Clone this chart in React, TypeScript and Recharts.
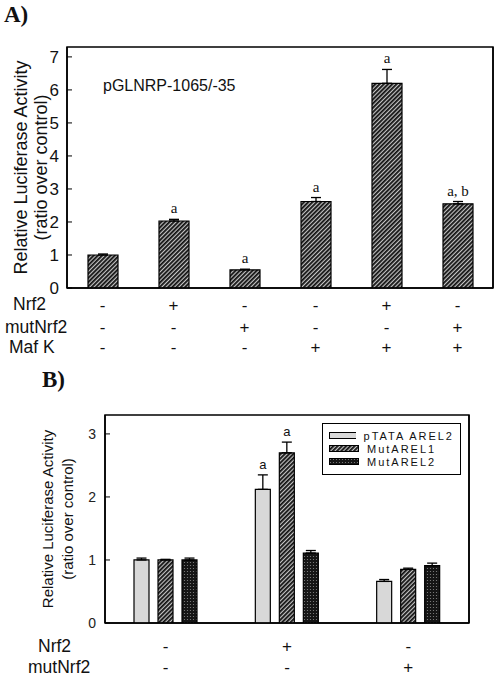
import {
  Bar,
  BarChart,
  ErrorBar,
  LabelList,
  Legend,
  ReferenceArea,
  XAxis,
  YAxis,
} from "recharts";

const SANS = "Arial, 'Liberation Sans', Helvetica, sans-serif";
const SERIF = "'Times New Roman', 'Liberation Serif', serif";

// ---- panel A: pGLNRP-1065/-35 reporter ----
const conditionsA = ["control", "Nrf2", "mutNrf2", "MafK", "Nrf2+MafK", "mutNrf2+MafK"];
const activityA = [1.0, 2.03, 0.55, 2.62, 6.2, 2.55];
const errorA = [0.03, 0.05, 0.02, 0.12, 0.42, 0.07];
const notesA = ["", "a", "a", "a", "a", "a, b"];
const nrf2A = ["-", "+", "-", "-", "+", "-"];
const mutNrf2A = ["-", "-", "+", "-", "-", "+"];
const mafKA = ["-", "-", "-", "+", "+", "+"];
const rowNamesA = ["Nrf2", "mutNrf2", "Maf K"];
const ticksA = [0, 1, 2, 3, 4, 5, 6, 7];

// ---- panel B: ARE constructs ----
const conditionsB = ["control", "Nrf2", "mutNrf2"];
const seriesNamesB = ["pTATA AREL2", "MutAREL1", "MutAREL2"];
const ptataB = [1.0, 2.12, 0.66];
const ptataErrB = [0.03, 0.23, 0.03];
const mutArel1B = [1.0, 2.7, 0.85];
const mutArel1ErrB = [0.01, 0.17, 0.02];
const mutArel2B = [1.0, 1.11, 0.91];
const mutArel2ErrB = [0.03, 0.04, 0.04];
const ptataNotesB = ["", "a", ""];
const mutArel1NotesB = ["", "a", ""];
const emptyNotesB = ["", "", ""];
const nrf2B = ["-", "+", "-"];
const mutNrf2B = ["-", "-", "+"];
const rowNamesB = ["Nrf2", "mutNrf2"];
const ticksB = [0, 1, 2, 3];

// error bars only go up, so the lower bound is 0
const dataA = conditionsA.map((c, i) => ({
  condition: c,
  value: activityA[i],
  err: [0, errorA[i]],
}));

const dataB = conditionsB.map((c, i) => ({
  condition: c,
  ptata: ptataB[i],
  ptataErr: [0, ptataErrB[i]],
  mut1: mutArel1B[i],
  mut1Err: [0, mutArel1ErrB[i]],
  mut2: mutArel2B[i],
  mut2Err: [0, mutArel2ErrB[i]],
}));

function noteLabel(
  notes: string[],
  values: number[],
  errors: number[],
  family: string,
  size: number,
) {
  return (props: any) => {
    const vb = props.viewBox ?? props;
    const x = Number(props.x ?? vb.x);
    const y = Number(props.y ?? vb.y);
    const width = Number(props.width ?? vb.width);
    const height = Number(props.height ?? vb.height);
    const i = props.index;
    const note = notes[i];
    if (!note) return null;
    const k = height / values[i];
    const top = y - errors[i] * k;
    return (
      <text
        x={x + width / 2}
        y={top - 6}
        textAnchor="middle"
        fontFamily={family}
        fontSize={size}
        fill="#111"
      >
        {note}
      </text>
    );
  };
}

function signTick(rows: string[][], offsets: number[], categories: string[]) {
  return (props: any) => {
    const { x, y, payload } = props;
    let i = categories.indexOf(payload.value);
    if (i < 0) i = payload.index ?? props.index ?? 0;
    return (
      <g>
        {rows.map((r, j) => (
          <text
            key={j}
            x={x}
            y={y + offsets[j]}
            textAnchor="middle"
            fontFamily={SANS}
            fontSize={17}
            fill="#111"
          >
            {r[i]}
          </text>
        ))}
      </g>
    );
  };
}

function rowNames(names: string[], offsets: number[], xs: number[], size: number) {
  return (props: any) => {
    const vb = props.viewBox;
    return (
      <g>
        {names.map((n, j) => (
          <text
            key={n}
            x={xs[j]}
            y={vb.y + offsets[j]}
            fontFamily={SANS}
            fontSize={size}
            fill="#111"
          >
            {n}
          </text>
        ))}
      </g>
    );
  };
}

function yTitle(xs: number[], size: number) {
  return (props: any) => {
    const vb = props.viewBox;
    const cy = vb.y + vb.height / 2;
    const lines = ["Relative Luciferase Activity", "(ratio over control)"];
    return (
      <g>
        {lines.map((l, j) => (
          <text
            key={l}
            x={xs[j]}
            y={cy}
            transform={`rotate(-90 ${xs[j]} ${cy})`}
            textAnchor="middle"
            fontFamily={SANS}
            fontSize={size}
            fill="#111"
          >
            {l}
          </text>
        ))}
      </g>
    );
  };
}

function Swatch({ fill }: { fill: string }) {
  return (
    <svg width={30} height={7} style={{ display: "block" }}>
      <rect x={0.5} y={0.5} width={29} height={6} fill={fill} stroke="#000" strokeWidth={1} />
    </svg>
  );
}

function LegendB() {
  const fills = ["#d8d8d8", "url(#hatchB)", "url(#dotsB)"];
  return (
    <div
      style={{
        border: "1.5px solid #000",
        background: "#fff",
        padding: "5px 6px",
        boxSizing: "border-box",
        width: 139,
        height: 52,
      }}
    >
      {seriesNamesB.map((n, i) => (
        <div
          key={n}
          style={{ display: "flex", alignItems: "center", height: 13, gap: 8 }}
        >
          <Swatch fill={fills[i]} />
          <span
            style={{
              fontFamily: SANS,
              fontSize: 11,
              letterSpacing: 2,
              color: "#111",
              lineHeight: "12px",
              whiteSpace: "nowrap",
            }}
          >
            {n}
          </span>
        </div>
      ))}
    </div>
  );
}

function Patterns({ suffix }: { suffix: string }) {
  return (
    <defs>
      <pattern
        id={`hatch${suffix}`}
        patternUnits="userSpaceOnUse"
        width={3}
        height={3}
        patternTransform="rotate(45)"
      >
        <rect width={3} height={3} fill="#c4c4c4" />
        <rect width={1.8} height={3} fill="#111" />
      </pattern>
      <pattern id={`dots${suffix}`} patternUnits="userSpaceOnUse" width={3} height={3}>
        <rect width={3} height={3} fill="#151515" />
        <circle cx={1.5} cy={1.5} r={0.6} fill="#888" />
      </pattern>
    </defs>
  );
}

function PanelA() {
  return (
    <BarChart
      width={500}
      height={360}
      data={dataA}
      margin={{ top: 47, right: 0, bottom: 0, left: 0 }}
    >
      <Patterns suffix="A" />
      <ReferenceArea y1={0} y2={7.3} fill="none" stroke="#000" strokeWidth={1.5} />
      <XAxis
        dataKey="condition"
        height={72}
        tickLine={false}
        tickSize={0}
        tickMargin={0}
        axisLine={{ stroke: "#000", strokeWidth: 1.5 }}
        interval={0}
        tick={signTick([nrf2A, mutNrf2A, mafKA], [23, 45, 65], conditionsA)}
        label={{ content: rowNames(rowNamesA, [22, 45, 65], [13, 5, 9], 17.5) }}
      />
      <YAxis
        domain={[0, 7.3]}
        ticks={ticksA}
        width={67}
        tickSize={-5}
        tickMargin={13}
        allowDataOverflow
        axisLine={{ stroke: "#000", strokeWidth: 1.5 }}
        tickLine={{ stroke: "#000" }}
        tick={{ fill: "#111", fontSize: 17, fontFamily: SANS }}
        label={{ content: yTitle([27, 47], 18) }}
      />
      <YAxis
        yAxisId="right"
        orientation="right"
        domain={[0, 7.3]}
        ticks={ticksA}
        width={7}
        tickSize={-5}
        allowDataOverflow
        axisLine={{ stroke: "#000", strokeWidth: 1.5 }}
        tickLine={{ stroke: "#000" }}
        tick={false}
      />
      <Bar
        dataKey="value"
        barSize={30}
        fill="url(#hatchA)"
        stroke="#000"
        strokeWidth={1.2}
        isAnimationActive={false}
      >
        <ErrorBar dataKey="err" width={5} stroke="#000" strokeWidth={1.3} />
        <LabelList
          dataKey="value"
          content={noteLabel(notesA, activityA, errorA, SERIF, 15)}
        />
      </Bar>
    </BarChart>
  );
}

function PanelB() {
  return (
    <BarChart
      width={500}
      height={317}
      data={dataB}
      barGap={9}
      margin={{ top: 55, right: 24, bottom: 0, left: 0 }}
    >
      <Patterns suffix="B" />
      <ReferenceArea y1={0} y2={3.3} fill="none" stroke="#000" strokeWidth={1.5} />
      <XAxis
        dataKey="condition"
        height={54}
        tickLine={false}
        tickSize={0}
        tickMargin={0}
        axisLine={{ stroke: "#000", strokeWidth: 1.5 }}
        interval={0}
        tick={signTick([nrf2B, mutNrf2B], [29, 50], conditionsB)}
        label={{ content: rowNames(rowNamesB, [29, 50], [38, 28], 17.5) }}
      />
      <YAxis
        domain={[0, 3.3]}
        ticks={ticksB}
        width={105}
        tickSize={-5}
        tickMargin={14}
        allowDataOverflow
        axisLine={{ stroke: "#000", strokeWidth: 1.5 }}
        tickLine={{ stroke: "#000" }}
        tick={{ fill: "#222", fontSize: 14, fontFamily: SANS }}
        label={{ content: yTitle([53, 73], 15) }}
      />
      <YAxis
        yAxisId="right"
        orientation="right"
        domain={[0, 3.3]}
        ticks={ticksB}
        width={7}
        tickSize={-5}
        allowDataOverflow
        axisLine={{ stroke: "#000", strokeWidth: 1.5 }}
        tickLine={{ stroke: "#000" }}
        tick={false}
      />
      <Legend
        layout="vertical"
        align="center"
        verticalAlign="middle"
        wrapperStyle={{ left: 322, top: 63, width: 139, height: 52 }}
        content={() => <LegendB />}
      />
      <Bar
        dataKey="ptata"
        name={seriesNamesB[0]}
        barSize={15}
        fill="#d8d8d8"
        stroke="#000"
        strokeWidth={1.2}
        isAnimationActive={false}
      >
        <ErrorBar dataKey="ptataErr" width={5} stroke="#000" strokeWidth={1.3} />
        <LabelList
          dataKey="ptata"
          content={noteLabel(ptataNotesB, ptataB, ptataErrB, SANS, 13)}
        />
      </Bar>
      <Bar
        dataKey="mut1"
        name={seriesNamesB[1]}
        barSize={15}
        fill="url(#hatchB)"
        stroke="#000"
        strokeWidth={1.2}
        isAnimationActive={false}
      >
        <ErrorBar dataKey="mut1Err" width={5} stroke="#000" strokeWidth={1.3} />
        <LabelList
          dataKey="mut1"
          content={noteLabel(mutArel1NotesB, mutArel1B, mutArel1ErrB, SANS, 13)}
        />
      </Bar>
      <Bar
        dataKey="mut2"
        name={seriesNamesB[2]}
        barSize={15}
        fill="url(#dotsB)"
        stroke="#000"
        strokeWidth={1.2}
        isAnimationActive={false}
      >
        <ErrorBar dataKey="mut2Err" width={5} stroke="#000" strokeWidth={1.3} />
        <LabelList
          dataKey="mut2"
          content={noteLabel(emptyNotesB, mutArel2B, mutArel2ErrB, SANS, 13)}
        />
      </Bar>
    </BarChart>
  );
}

export default function App() {
  return (
    <div
      style={{
        position: "absolute",
        left: 0,
        top: 0,
        width: 500,
        height: 677,
        background: "#fff",
        overflow: "hidden",
      }}
    >
      <div style={{ position: "absolute", left: 0, top: 0 }}>
        <PanelA />
      </div>
      <div style={{ position: "absolute", left: 0, top: 360 }}>
        <PanelB />
      </div>
      <div
        style={{
          position: "absolute",
          left: 4,
          top: 2,
          fontFamily: SERIF,
          fontWeight: "bold",
          fontSize: 23,
          color: "#111",
        }}
      >
        A)
      </div>
      <div
        style={{
          position: "absolute",
          left: 42,
          top: 367,
          fontFamily: SERIF,
          fontWeight: "bold",
          fontSize: 23,
          color: "#111",
        }}
      >
        B)
      </div>
      <div
        style={{
          position: "absolute",
          left: 103,
          top: 77,
          fontFamily: SANS,
          fontSize: 16,
          color: "#111",
          whiteSpace: "nowrap",
        }}
      >
        pGLNRP-1065/-35
      </div>
    </div>
  );
}
